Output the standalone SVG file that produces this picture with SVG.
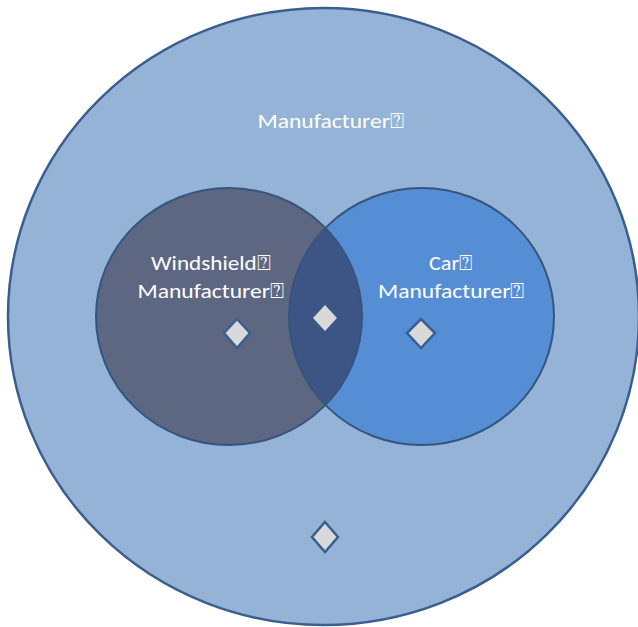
<svg xmlns="http://www.w3.org/2000/svg" width="638" height="627" viewBox="0 0 638 627">
<style>
.lbl{font-family:"Carlito","Liberation Sans","DejaVu Sans",sans-serif;font-size:21px;fill:#ffffff;text-anchor:middle}
.dia{fill:#d9d9d9;stroke:#3a5f8e;stroke-width:2.5}
.edge{fill:none;stroke:#34557f;stroke-width:2}
</style>
<defs>
<clipPath id="clipL"><ellipse cx="229" cy="316.5" rx="133" ry="128.5"/></clipPath>
</defs>
<rect width="638" height="627" fill="#ffffff"/>
<g id="manufacturer">
<ellipse cx="323.5" cy="316.5" rx="315.5" ry="308.5" fill="#95b3d7" stroke="#3a5f8e" stroke-width="2.5"/>
<text class="lbl" x="331" y="128" textLength="147" lengthAdjust="spacingAndGlyphs">Manufacturer⍰</text>
<polygon class="dia" points="325,522 338,537 325,552 312,537"/>
</g>
<g id="windshield-manufacturer">
<ellipse cx="229" cy="316.5" rx="133" ry="128.5" fill="#5e6782"/>
</g>
<g id="car-manufacturer">
<ellipse cx="421.5" cy="316.5" rx="132.5" ry="128.5" fill="#558ed5"/>
</g>
<g id="intersection">
<ellipse cx="421.5" cy="316.5" rx="132.5" ry="128.5" fill="#3c5585" clip-path="url(#clipL)"/>
</g>
<g id="connectors">
<ellipse class="edge" cx="229" cy="316.5" rx="133" ry="128.5" stroke="#3f6190"/>
<ellipse class="edge" cx="421.5" cy="316.5" rx="132.5" ry="128.5"/>
</g>
<g id="labels">
<text class="lbl" x="211" y="270" textLength="120" lengthAdjust="spacingAndGlyphs">Windshield⍰</text>
<text class="lbl" x="211" y="298" textLength="147" lengthAdjust="spacingAndGlyphs">Manufacturer⍰</text>
<text class="lbl" x="451" y="270" textLength="44" lengthAdjust="spacingAndGlyphs">Car⍰</text>
<text class="lbl" x="451.5" y="298" textLength="147" lengthAdjust="spacingAndGlyphs">Manufacturer⍰</text>
</g>
<g id="markers">
<polygon class="dia" points="237,319 250,333 237,348 224,333"/>
<polygon fill="#d9d9d9" points="325,305 337,318 325,331 313,318"/>
<polygon class="dia" points="421,319 435,333 421,348 407,333"/>
</g>
</svg>
